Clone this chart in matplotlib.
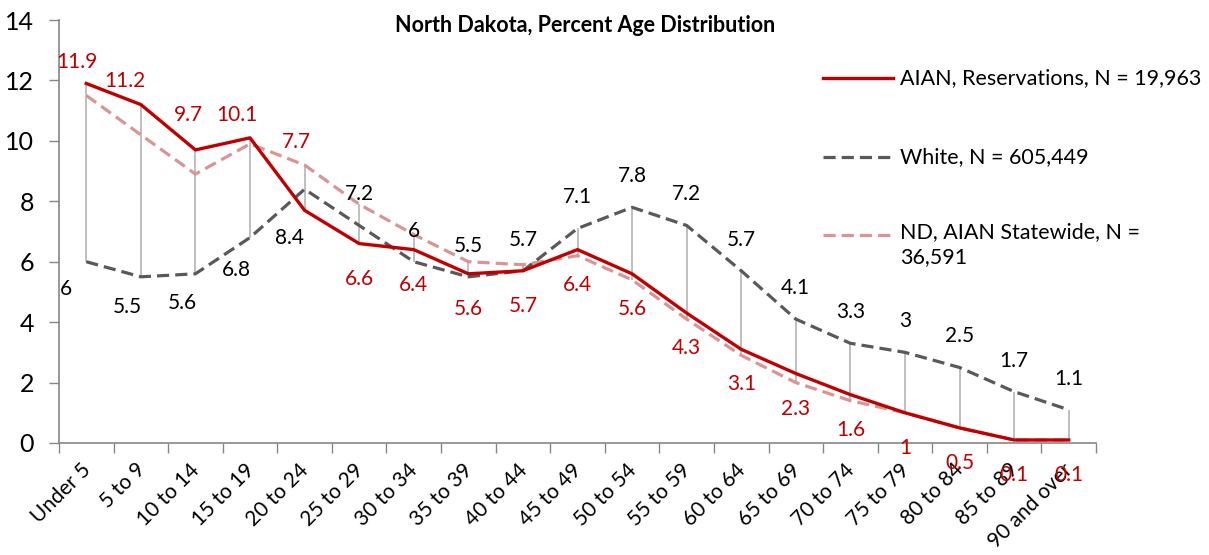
import numpy as np
import matplotlib
matplotlib.use('Agg')
from matplotlib import pyplot as plt
from matplotlib.lines import Line2D
from matplotlib.transforms import ScaledTranslation

plt.rcParams['font.family'] = ['Lato', 'DejaVu Sans']

# Daten
age_groups = ['Under 5', '5 to 9', '10 to 14', '15 to 19', '20 to 24', '25 to 29',
              '30 to 34', '35 to 39', '40 to 44', '45 to 49', '50 to 54', '55 to 59',
              '60 to 64', '65 to 69', '70 to 74', '75 to 79', '80 to 84', '85 to 89',
              '90 and over']
aian_res = [11.9, 11.2, 9.7, 10.1, 7.7, 6.6, 6.4, 5.6, 5.7, 6.4,
            5.6, 4.3, 3.1, 2.3, 1.6, 1, 0.5, 0.1, 0.1]
white = [6, 5.5, 5.6, 6.8, 8.4, 7.2, 6, 5.5, 5.7, 7.1,
         7.8, 7.2, 5.7, 4.1, 3.3, 3, 2.5, 1.7, 1.1]
aian_state = [11.5, 10.2, 8.9, 9.9, 9.2, 7.9, 6.9, 6.0, 5.9, 6.2,
              5.4, 4.1, 2.9, 2.0, 1.4, 1.0, 0.5, 0.1, 0.1]

legend_labels = ['AIAN, Reservations, N = 19,963',
                 'White, N = 605,449',
                 'ND, AIAN Statewide, N =\n36,591']

RED = '#C00000'
GREY = '#595959'
PINK = '#D99594'

# label offsets in pixels (dx, dy), positive dy = up
red_off = [(-9, 21), (-16, 24), (-7, 35), (-13, 23), (-8, 68)] + [(0, -35)] * 14
white_off = [(-20, -27), (-14, -30), (-13, -29), (-14, -32), (-15, -49)] + [(0, 31)] * 14

fig = plt.figure(figsize=(12.09, 5.55), dpi=100)
ax = fig.add_axes([59 / 1209, 1 - 443 / 555, (1096 - 59) / 1209, (443 - 20) / 555])

x = np.arange(len(age_groups))
stack = np.vstack([aian_res, white, aian_state])
ax.vlines(x, stack.min(axis=0), stack.max(axis=0), color='#BFBFBF', lw=1.4, zorder=1)

ax.plot(x, aian_state, color=PINK, lw=2.3, dashes=(3.8, 1.9), zorder=2)
ax.plot(x, white, color=GREY, lw=2.3, dashes=(3.8, 1.9), zorder=3)
ax.plot(x, aian_res, color=RED, lw=2.4, zorder=4)

for xi, v, (dx, dy) in zip(x, aian_res, red_off):
    ax.annotate(f'{v:g}', (xi, v), xytext=(dx, dy), textcoords='offset pixels',
                ha='center', va='center', color=RED, fontsize=15, zorder=5)
for xi, v, (dx, dy) in zip(x, white, white_off):
    ax.annotate(f'{v:g}', (xi, v), xytext=(dx, dy), textcoords='offset pixels',
                ha='center', va='center', color='black', fontsize=15, zorder=5)

ax.set_xlim(-0.5, len(age_groups) - 0.5)
ax.set_ylim(0, 14)
ax.set_yticks(np.arange(0, 15, 2))
ax.tick_params(axis='y', labelsize=18, length=7, width=1, color='#868686', pad=11)

ax.set_xticks(np.arange(-0.5, len(age_groups), 1))
ax.set_xticklabels([])
ax.tick_params(axis='x', which='major', length=7, width=1, color='#868686')
ax.set_xticks(x, minor=True)
ax.set_xticklabels(age_groups, minor=True, rotation=45, ha='right',
                   rotation_mode='anchor', fontsize=15)
ax.tick_params(axis='x', which='minor', length=0, pad=12)
shift = ScaledTranslation(-6 / 100, 0, fig.dpi_scale_trans)
for lbl in ax.get_xticklabels(minor=True):
    lbl.set_transform(lbl.get_transform() + shift)

for s in ['top', 'right']:
    ax.spines[s].set_visible(False)
for s in ['left', 'bottom']:
    ax.spines[s].set_color('#868686')
    ax.spines[s].set_linewidth(1.2)

fig.text(585 / 1209, 1 - 25 / 555, 'North Dakota, Percent Age Distribution',
         ha='center', va='center', fontsize=15.5, fontweight='bold')

# Legende
leg_rows = [78, 157, 235]
leg_styles = [dict(color=RED, lw=2.4),
              dict(color=GREY, lw=2.3, dashes=(3.8, 1.9)),
              dict(color=PINK, lw=2.3, dashes=(3.8, 1.9))]
for yy, lab, st in zip(leg_rows, legend_labels, leg_styles):
    yf = 1 - yy / 555
    fig.add_artist(Line2D([823 / 1209, 893 / 1209], [yf, yf], **st))
    if '\n' in lab:
        fig.text(900 / 1209, yf + 13 / 555, lab, ha='left', va='top',
                 fontsize=15.5, linespacing=1.3)
    else:
        fig.text(900 / 1209, yf, lab, ha='left', va='center', fontsize=15.5)

plt.savefig('out.png', dpi=100)
